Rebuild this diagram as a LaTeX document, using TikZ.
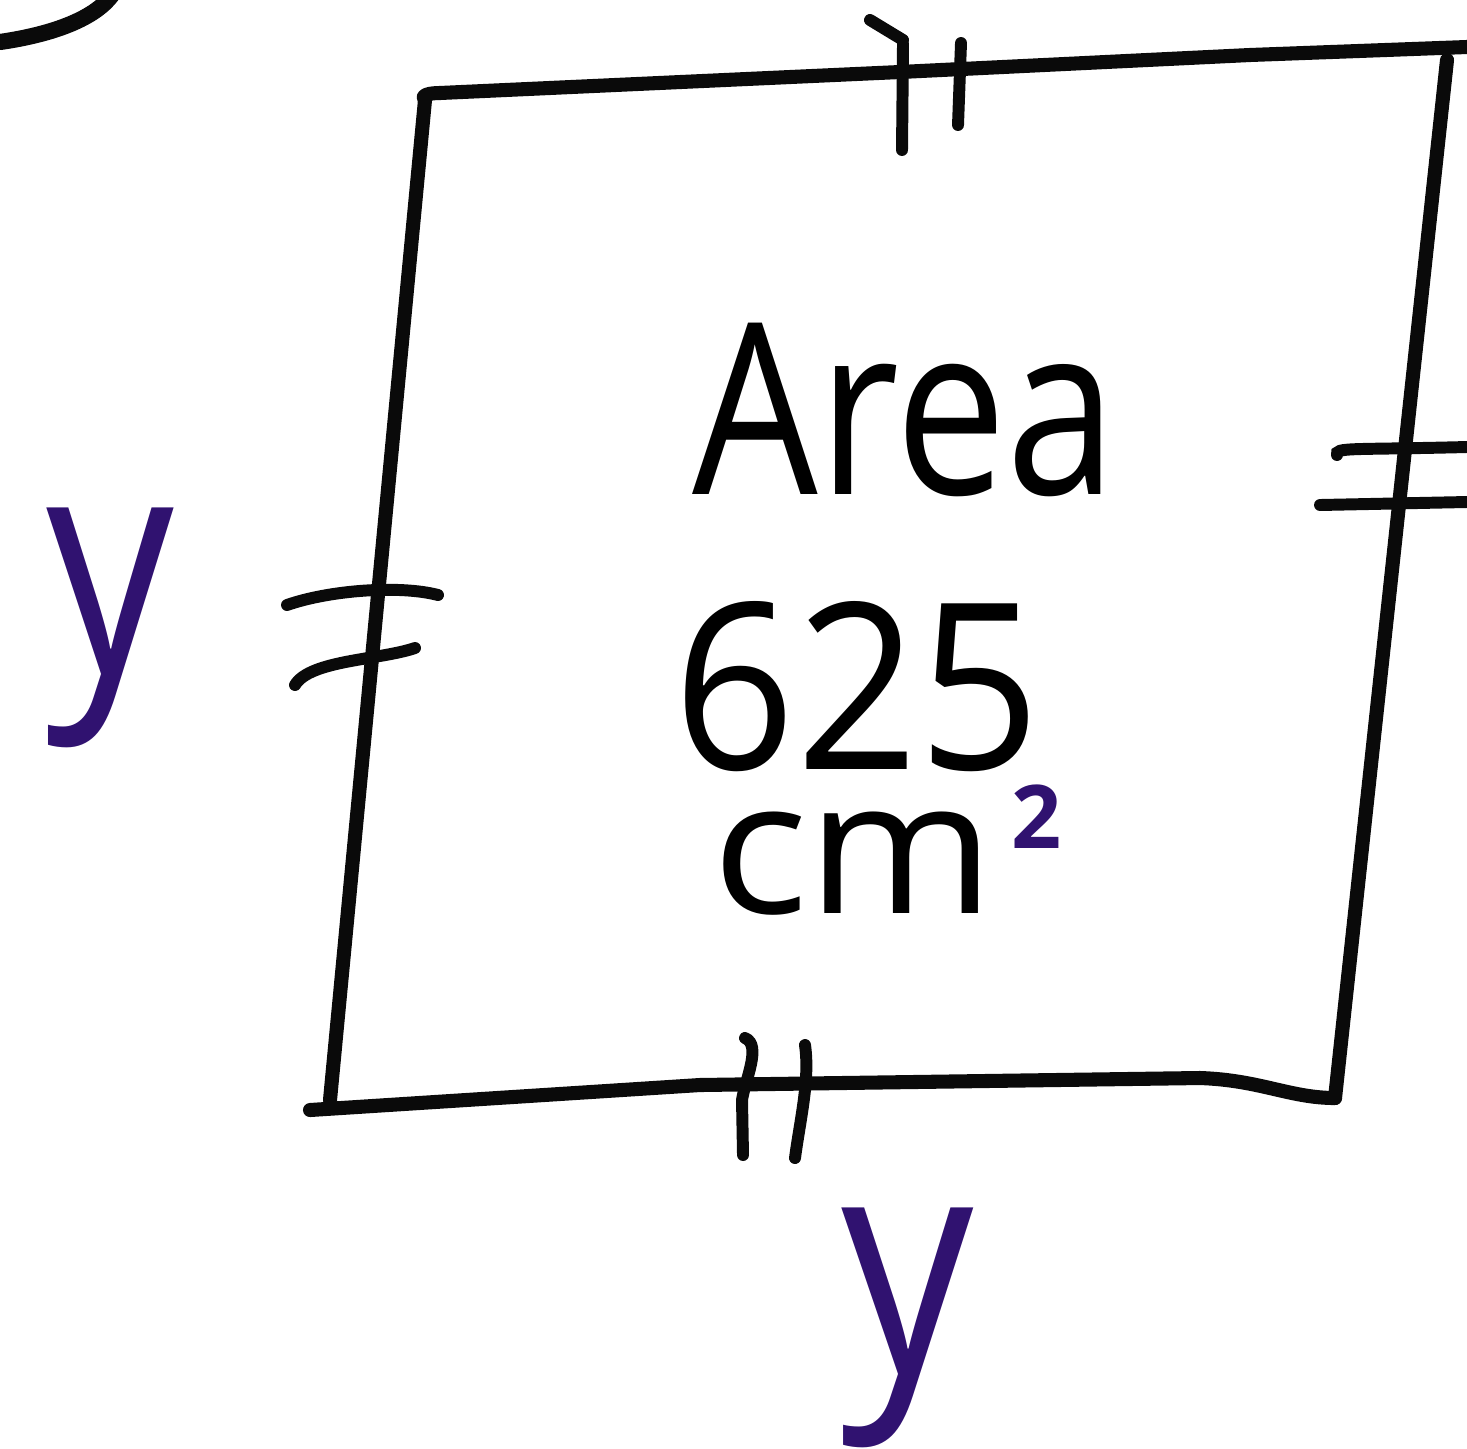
\documentclass[tikz,border=0pt]{standalone}
\usepackage{fontspec}
\setmainfont{Open Sans}
\definecolor{ink}{RGB}{10,10,10}
\definecolor{pen}{RGB}{48,18,112}
\tikzset{
  edge/.style={draw=ink, line width=4pt, line cap=round, line join=round},
  tick/.style={draw=ink, line width=3.4pt, line cap=round},
  label/.style={inner sep=0pt, outer sep=0pt},
}
\begin{document}
\begin{tikzpicture}[x=0.01cm,y=-0.01cm]
\useasboundingbox (0,0) rectangle (1467,1448);
% partial circle at the top-left corner
\draw[edge, line width=4.6pt] (0,42) .. controls (55,34) and (95,18) .. (112,-5);
% square
\draw[edge] (425,100) -- (330,1100);
\draw[edge] (425,100) .. controls (420,95) and (430,93) .. (440,93) -- (900,72) -- (1250,55) -- (1467,47);
\draw[edge] (1447,60) -- (1335,1098);
\draw[edge] (310,1110) -- (700,1085) -- (1200,1078) .. controls (1260,1080) and (1290,1098) .. (1335,1098);
% top ticks
\draw[tick] (903,44) -- (902,150);
\draw[tick] (961,43) -- (958,125);
\draw[tick] (870,20) -- (903,40);
% bottom ticks
\draw[tick] (745,1038) .. controls (762,1045) and (745,1080) .. (742,1100) -- (743,1155);
\draw[tick] (805,1045) .. controls (810,1080) and (800,1120) .. (795,1158);
% left ticks
\draw[tick] (287,605) .. controls (330,590) and (400,585) .. (438,595);
\draw[tick] (295,685) .. controls (310,660) and (380,660) .. (415,648);
% right ticks
\draw[tick] (1337,455) .. controls (1335,447) and (1350,450) .. (1467,447);
\draw[tick] (1320,505) -- (1467,502);
% texts
\node[label, font=\fontsize{68}{80}\selectfont] (area) at (905,410) {\scalebox{0.83}[1]{Area}};
\node[label, font=\fontsize{66}{78}\selectfont] (num) at (857,687) {\scalebox{0.92}[1]{625}};
\node[label, anchor=base west, font=\fontsize{53}{60}\selectfont] (unit) at (712,913)
  {\scalebox{1.08}[1]{cm}\hspace{0.16cm}\raisebox{0.64cm}{\textcolor{pen}{\fontsize{25}{30}\bfseries\selectfont 2}}};
\node[label, text=pen, font=\fontsize{88}{100}\selectfont] (yl) at (110,628) {\scalebox{0.82}[1]{y}};
\node[label, text=pen, font=\fontsize{88}{100}\selectfont] (yb) at (908,1328) {\scalebox{0.85}[1]{y}};
\end{tikzpicture}
\end{document}
